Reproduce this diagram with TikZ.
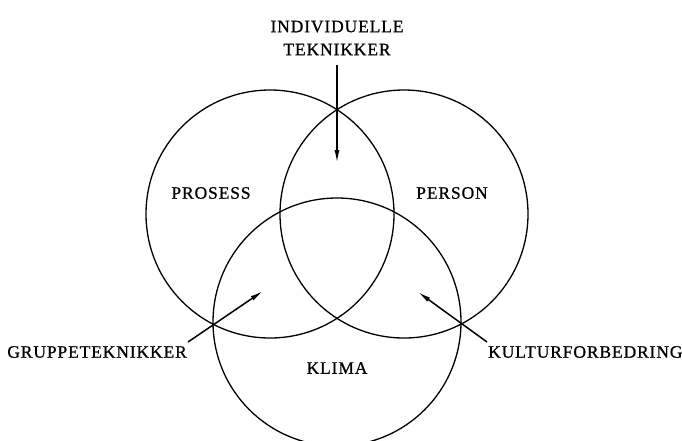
\documentclass[tikz,border=0pt]{standalone}
\usepackage{fontspec}
\setmainfont{Liberation Serif}[LetterSpace=5,FakeBold=0.8]
\usetikzlibrary{arrows.meta}
\begin{document}
\begin{tikzpicture}[x=1pt,y=-1pt,
  ring/.style={draw=black,line width=1.3pt},
  lbl/.style={font=\fontsize{17.5}{23}\selectfont,inner sep=0pt,align=center},
  pointer/.style={draw=black,line width=1.5pt,-{Latex[length=13pt,width=5pt]}}]
\clip (0,0) rectangle (682,440);
\fill[white] (0,0) rectangle (682,440);
% circles
\node[ring,circle,minimum size=248pt,inner sep=0pt] (prosessC) at (270,214) {};
\node[ring,circle,minimum size=248pt,inner sep=0pt] (personC) at (404,214) {};
\node[ring,circle,minimum size=248pt,inner sep=0pt] (klimaC) at (337,322) {};
% region labels
\node[lbl] (prosess) at (211,193) {PROSESS};
\node[lbl] (person) at (452,193) {PERSON};
\node[lbl] (klima) at (337,368) {KLIMA};
% outside labels
\node[lbl] (indiv) at (337,38) {INDIVIDUELLE\\TEKNIKKER};
\node[lbl,anchor=east] (gruppe) at (187,352) {GRUPPETEKNIKKER};
\node[lbl,anchor=west] (kultur) at (488,352) {KULTURFORBEDRING};
% arrow coordinates
\coordinate (indivS) at (337,65);
\coordinate (indivE) at (337,163);
\coordinate (gruppeS) at (188,342);
\coordinate (gruppeE) at (263,291);
\coordinate (kulturS) at (487,342);
\coordinate (kulturE) at (418,292);
\draw[pointer] (indivS) -- (indivE);
\draw[pointer] (gruppeS) -- (gruppeE);
\draw[pointer] (kulturS) -- (kulturE);
\end{tikzpicture}
\end{document}
